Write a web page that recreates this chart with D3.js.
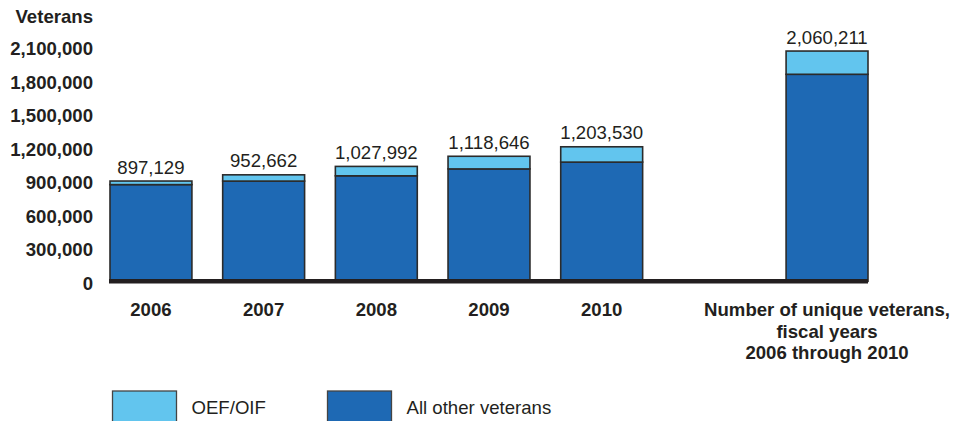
<!DOCTYPE html>
<html>
<head>
<meta charset="utf-8">
<script src="https://cdn.jsdelivr.net/npm/d3@7"></script>
<style>
  body { margin: 0; background: #fff; }
  text { font-family: "Liberation Sans", Arial, Helvetica, sans-serif; fill: #231f20; }
</style>
</head>
<body>
<div id="chart"></div>
<script>
// chart data
const categories = ["2006", "2007", "2008", "2009", "2010", "unique"];
const categoryLabels = [
  ["2006"], ["2007"], ["2008"], ["2009"], ["2010"],
  ["Number of unique veterans,", "fiscal years", "2006 through 2010"]
];
const totals = [897129, 952662, 1027992, 1118646, 1203530, 2060211];
const oefOif = [32000, 56000, 84000, 113000, 137000, 208000];
const otherVeterans = [865129, 896662, 943992, 1005646, 1066530, 1852211];
const yTicks = [0, 300000, 600000, 900000, 1200000, 1500000, 1800000, 2100000];
const seriesNames = ["OEF/OIF", "All other veterans"];

const width = 965;
const height = 421;
const fontSize = "18.6px";
const lightBlue = "#62c5ee";
const darkBlue = "#1e69b4";
const outline = "#2b2b2b";

// slot 6 is empty, the unique-veterans bar sits in the last slot
const slots = ["2006", "2007", "2008", "2009", "2010", "spacer", "unique"];

const x = d3.scaleBand()
  .domain(slots)
  .range([110, 868])
  .paddingInner(0.273)
  .paddingOuter(0);

const y = d3.scaleLinear()
  .domain([0, 2100000])
  .range([281.3, 46.6]);

const rows = categories.map((c, i) => ({ cat: c, other: otherVeterans[i], oef: oefOif[i], total: totals[i] }));
const stacked = d3.stack().keys(["other", "oef"])(rows);

const svg = d3.select("#chart")
  .append("svg")
  .attr("width", width)
  .attr("height", height)
  .style("display", "block");

// y axis labels
const yAxis = svg.append("g")
  .attr("transform", "translate(93,2)")
  .call(d3.axisLeft(y).tickValues(yTicks).tickFormat(d3.format(",")).tickSize(0).tickPadding(0));
yAxis.select(".domain").remove();
yAxis.selectAll("text")
  .style("font-family", "'Liberation Sans', Arial, sans-serif")
  .style("font-size", fontSize)
  .style("font-weight", "bold")
  .attr("fill", "#231f20");

svg.append("text")
  .attr("x", 93)
  .attr("y", 23)
  .attr("text-anchor", "end")
  .style("font-size", fontSize)
  .style("font-weight", "bold")
  .text("Veterans");

// bars
const colors = { other: darkBlue, oef: lightBlue };
svg.append("g")
  .selectAll("g")
  .data(stacked)
  .join("g")
  .attr("fill", d => colors[d.key])
  .selectAll("rect")
  .data(d => d)
  .join("rect")
  .attr("x", d => x(d.data.cat))
  .attr("y", d => y(d[1]))
  .attr("width", x.bandwidth())
  .attr("height", d => y(d[0]) - y(d[1]))
  .attr("stroke", outline)
  .attr("stroke-width", 1.6);

// baseline
svg.append("line")
  .attr("x1", 109)
  .attr("x2", x("unique") + x.bandwidth())
  .attr("y1", y(0))
  .attr("y2", y(0))
  .attr("stroke", "#231f20")
  .attr("stroke-width", 4.6);

// value labels
svg.append("g")
  .selectAll("text")
  .data(rows)
  .join("text")
  .attr("x", d => x(d.cat) + x.bandwidth() / 2)
  .attr("y", d => y(d.total) - 7.5)
  .attr("text-anchor", "middle")
  .style("font-size", fontSize)
  .text(d => d3.format(",")(d.total));

// category labels
const catLabels = svg.append("g")
  .selectAll("text")
  .data(rows)
  .join("text")
  .attr("x", d => x(d.cat) + x.bandwidth() / 2)
  .attr("y", 316)
  .attr("text-anchor", "middle")
  .style("font-size", fontSize)
  .style("font-weight", "bold");
catLabels.selectAll("tspan")
  .data((d, i) => categoryLabels[i])
  .join("tspan")
  .attr("x", function () { return this.parentNode.getAttribute("x"); })
  .attr("dy", (d, i) => i === 0 ? 0 : 21.5)
  .text(d => d);

// legend
const legendX = [112.5, 327.5];
const legend = svg.append("g")
  .selectAll("g")
  .data(seriesNames)
  .join("g")
  .attr("transform", (d, i) => `translate(${legendX[i]},391)`);
legend.append("rect")
  .attr("width", 64)
  .attr("height", 34)
  .attr("fill", (d, i) => i === 0 ? lightBlue : darkBlue)
  .attr("stroke", "#444")
  .attr("stroke-width", 1.3);
legend.append("text")
  .attr("x", 79)
  .attr("y", 23)
  .style("font-size", fontSize)
  .text(d => d);
</script>
</body>
</html>
